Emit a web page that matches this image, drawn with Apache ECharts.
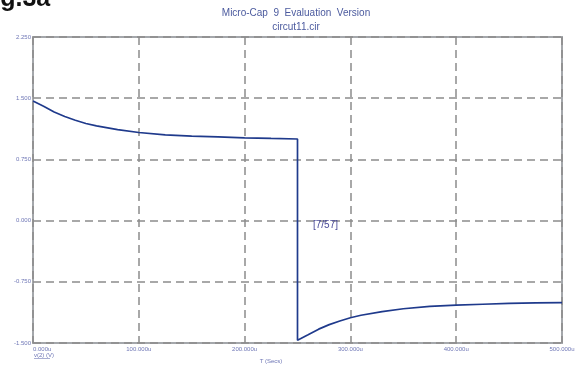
<!DOCTYPE html>
<html>
<head>
<meta charset="utf-8">
<script src="https://cdn.jsdelivr.net/npm/echarts@6/dist/echarts.min.js"></script>
<style>
html,body{margin:0;padding:0;background:#fff;overflow:hidden;}
#c{width:582px;height:365px;}
</style>
</head>
<body>
<div id="c"></div>
<script>
// Time points (microseconds) and voltage v(2)
var timeUs = [0, 10, 20, 30, 40, 50, 60, 80, 100, 125, 150, 175, 200, 225, 250,
              250, 260, 270, 280, 290, 300, 310, 330, 350, 375, 400, 425, 450, 475, 500];
var voltage = [1.465, 1.40, 1.33, 1.275, 1.23, 1.19, 1.16, 1.115, 1.08, 1.05, 1.035, 1.025, 1.015, 1.007, 1.0,
               -1.465, -1.40, -1.33, -1.275, -1.23, -1.19, -1.16, -1.115, -1.08, -1.05, -1.035, -1.025, -1.015, -1.008, -1.005];
var xTicks = [0, 100, 200, 300, 400, 500];
var yTicks = [-1.5, -0.75, 0, 0.75, 1.5, 2.25];

var points = timeUs.map(function (t, i) { return [t, voltage[i]]; });

var chart = echarts.init(document.getElementById('c'), null, {renderer: 'canvas'});
var narrow = '"Liberation Sans Narrow", "Liberation Sans", Arial, sans-serif';
var sans = '"Liberation Sans", Arial, sans-serif';
var tickColor = '#6f77b6';
chart.setOption({
  animation: false,
  backgroundColor: '#ffffff',
  grid: {left: 33, top: 37, right: 20, bottom: 22, show: true, borderColor: '#a4a7ab', borderWidth: 2},
  xAxis: {
    type: 'value', min: xTicks[0], max: xTicks[xTicks.length - 1], interval: 100,
    axisLine: {show: false},
    axisTick: {show: false},
    splitLine: {show: true, lineStyle: {color: '#8c8c8c', width: 1.5, type: [8, 5]}},
    axisLabel: {
      fontSize: 6, color: tickColor, margin: 3, fontFamily: narrow,
      alignMinLabel: 'left',
      formatter: function (v) { return v.toFixed(3) + 'u'; }
    }
  },
  yAxis: {
    type: 'value', min: yTicks[0], max: yTicks[yTicks.length - 1], interval: 0.75,
    axisLine: {show: false},
    axisTick: {show: false},
    splitLine: {show: true, lineStyle: {color: '#8c8c8c', width: 1.5, type: [8, 5]}},
    axisLabel: {
      fontSize: 6, color: tickColor, margin: 2, fontFamily: narrow,
      formatter: function (v) { return v.toFixed(3); }
    }
  },
  series: [{
    type: 'line', data: points, showSymbol: false, symbol: 'none',
    lineStyle: {color: '#1f3a8c', width: 1.7},
    z: 5
  }],
  graphic: [
    {type: 'text', x: -22, y: 12, style: {text: 'Fig.3a', font: 'bold 25px ' + sans, fill: '#111', verticalAlign: 'bottom', align: 'left'}},
    {type: 'text', x: 296, y: 13.5, style: {text: 'Micro-Cap  9  Evaluation  Version', font: '10px ' + narrow, fill: '#4b5a9e', align: 'center', verticalAlign: 'middle'}},
    {type: 'text', x: 296, y: 27.5, style: {text: 'circut11.cir', font: '10px ' + narrow, fill: '#4b5a9e', align: 'center', verticalAlign: 'middle'}},
    {type: 'text', x: 313, y: 225, z: 10, style: {text: '[7/57]', font: '10px ' + sans, fill: '#4a4a98', align: 'left', verticalAlign: 'middle'}},
    {type: 'text', x: 34, y: 355, style: {text: 'v(2) (V)', font: '6px ' + narrow, fill: tickColor, align: 'left', verticalAlign: 'middle'}},
    {type: 'line', shape: {x1: 34, y1: 358.5, x2: 50, y2: 358.5}, style: {stroke: tickColor, lineWidth: 0.6}},
    {type: 'text', x: 271, y: 361, style: {text: 'T (Secs)', font: '6px ' + narrow, fill: tickColor, align: 'center', verticalAlign: 'middle'}}
  ]
});
</script>
</body>
</html>
